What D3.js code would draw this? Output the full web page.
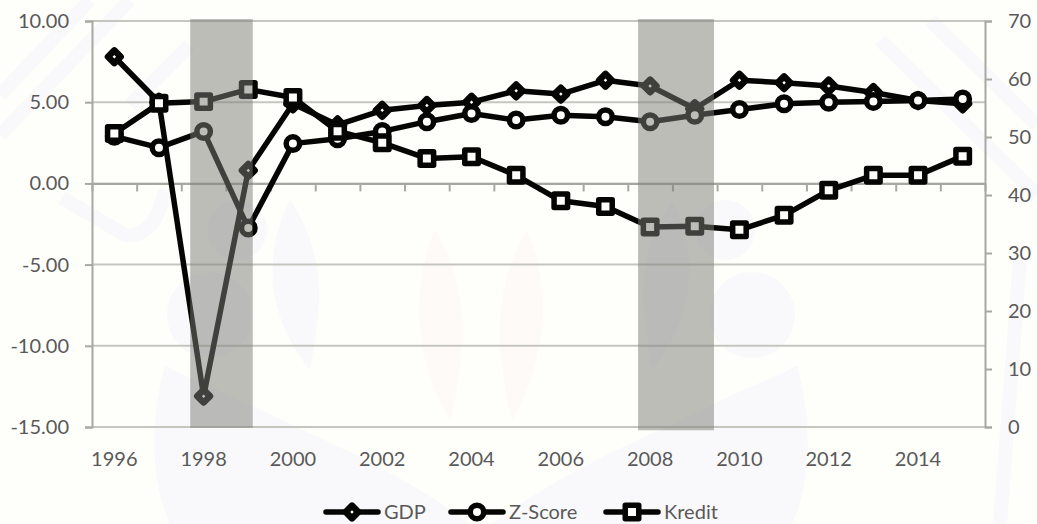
<!DOCTYPE html>
<html>
<head>
<meta charset="utf-8">
<script src="https://cdn.jsdelivr.net/npm/d3@7"></script>
<style>
  html, body { margin: 0; padding: 0; background: #fefefb; overflow: hidden; }
  svg { display: block; }
  text { font-family: Lato, sans-serif; font-size: 20px; fill: #595959; }
  .axis path, .axis line { stroke: #a8a8a2; stroke-width: 2px; }
  .axis text { font-family: Lato, sans-serif; font-size: 20px; fill: #595959; }
  .grid line { stroke: #c6c6c0; stroke-width: 2px; }
  .series { fill: none; stroke: #050503; stroke-width: 5.5px; stroke-linejoin: round; stroke-linecap: round; }
  .marker { fill: #fefefb; stroke: #050503; stroke-linejoin: round; }
  .wm { fill: #f9f9fb; }
  .wm-line { fill: none; stroke: #f9f9fb; stroke-width: 14px; }
  .wm-red { fill: #fefaf8; }
</style>
</head>
<body>
<script>
/* Values */
var years = d3.range(1996, 2016);
var gdp = [7.8, 5.0, -13.1, 0.8, 4.9, 3.6, 4.5, 4.8, 5.0, 5.7, 5.5, 6.35, 6.0, 4.6, 6.35, 6.2, 6.0, 5.6, 5.1, 4.9];
var zscore = [2.9, 2.2, 3.2, -2.75, 2.45, 2.75, 3.2, 3.8, 4.3, 3.9, 4.2, 4.1, 3.8, 4.2, 4.55, 4.9, 5.0, 5.05, 5.1, 5.2];
var kredit = [50.6, 55.8, 56.1, 58.2, 56.8, 51.0, 49.0, 46.3, 46.6, 43.4, 39.0, 38.0, 34.5, 34.6, 34.0, 36.5, 40.8, 43.4, 43.4, 46.7];
var yearLabels = d3.range(1996, 2016, 2);
var leftTicks = [-15, -10, -5, 0, 5, 10];
var rightTicks = [0, 10, 20, 30, 40, 50, 60, 70];
/* shaded spans: from year, to year, lowest value on the left axis */
var crisisSpans = [[1997.7, 1999.1, -15.05], [2007.73, 2009.43, -15.2]];

var width = 1037, height = 524;
var plotLeft = 92, plotRight = 985, plotTop = 21, plotBottom = 427;

var svg = d3.select("body").append("svg")
    .attr("width", width)
    .attr("height", height);

var x = d3.scaleLinear().domain([1995.5, 2015.5]).range([plotLeft, plotRight]);
var yLeft = d3.scaleLinear().domain([-15, 10]).range([plotBottom, plotTop]);
var yRight = d3.scaleLinear().domain([0, 70]).range([plotBottom, plotTop]);

/* Faint logo watermark behind the chart, its two halves mirror at x = 481 */
var wm = svg.append("g");
[0, 1].forEach(function(flip) {
  var half = wm.append("g")
      .attr("transform", flip ? "translate(962,0) scale(-1,1)" : null);
  half.append("circle").attr("class", "wm").attr("cx", 210).attr("cy", 315).attr("r", 43);
  half.append("circle").attr("class", "wm").attr("cx", 237).attr("cy", 230).attr("r", 30);
  half.append("path").attr("class", "wm")
      .attr("d", "M165,365C150,420 150,480 170,524L470,524C400,470 300,430 240,400C210,385 180,375 165,365Z");
  half.append("path").attr("class", "wm")
      .attr("d", "M290,200C330,260 320,310 310,370C270,320 260,260 290,200Z");
  half.append("path").attr("class", "wm-red")
      .attr("d", "M435,230C465,280 470,340 450,420C415,360 410,290 435,230Z");
});
wm.append("path").attr("class", "wm-line").attr("d", "M62,198L125,235Q155,238 165,190");
wm.append("path").attr("class", "wm-line").attr("d", "M0,95L90,0M0,135L130,0M130,105L190,45");
wm.append("path").attr("class", "wm-line").attr("d", "M880,40L1037,195M930,20L1037,125M1020,260L1000,524");

/* Gridlines */
svg.append("g").attr("class", "grid")
  .selectAll("line")
    .data(leftTicks)
  .enter().append("line")
    .attr("x1", plotLeft).attr("x2", plotRight)
    .attr("y1", function(d) { return yLeft(d); })
    .attr("y2", function(d) { return yLeft(d); });

/* Axes */
svg.append("g").attr("class", "axis")
    .attr("transform", "translate(" + plotLeft + ",0)")
    .call(d3.axisLeft(yLeft).tickValues(leftTicks).tickSizeOuter(0).tickSize(7).tickPadding(16)
      .tickFormat(function(d) { return d.toFixed(2); }));

svg.append("g").attr("class", "axis")
    .attr("transform", "translate(" + plotRight + ",0)")
    .call(d3.axisRight(yRight).tickValues(rightTicks).tickSizeOuter(0).tickSize(7).tickPadding(16));

/* Category axis crosses at zero, its ticks sit between the years */
svg.append("g").attr("class", "axis")
    .attr("transform", "translate(0," + yLeft(0) + ")")
    .call(d3.axisBottom(x).tickValues(d3.range(1995.5, 2016.5)).tickSize(8).tickSizeOuter(0).tickFormat(""));

svg.append("g")
  .selectAll("text")
    .data(yearLabels)
  .enter().append("text")
    .attr("x", function(d) { return x(d); })
    .attr("y", 466)
    .attr("text-anchor", "middle")
    .text(function(d) { return d; });

/* Series */
var symbols = {
  diamond: d3.symbol().type(d3.symbolSquare).size(81)(),
  circle: d3.symbol().type(d3.symbolCircle).size(143)(),
  square: d3.symbol().type(d3.symbolSquare).size(182)()
};

var series = [
  { name: "GDP", values: gdp, y: yLeft, shape: "diamond", sw: 6.5, rot: 45 },
  { name: "Z-Score", values: zscore, y: yLeft, shape: "circle", sw: 5.5, rot: 0 },
  { name: "Kredit", values: kredit, y: yRight, shape: "square", sw: 5.5, rot: 0 }
];

series.forEach(function(s) {
  var line = d3.line()
      .x(function(d, i) { return x(years[i]); })
      .y(function(d) { return s.y(d); });

  svg.append("path")
      .attr("class", "series")
      .attr("d", line(s.values));

  svg.selectAll(".m-" + s.shape)
      .data(s.values)
    .enter().append("path")
      .attr("class", "marker m-" + s.shape)
      .attr("d", symbols[s.shape])
      .attr("stroke-width", s.sw)
      .attr("transform", function(d, i) {
        return "translate(" + x(years[i]) + "," + s.y(d) + ") rotate(" + s.rot + ")";
      });
});

/* Shaded crisis spans lie over the lines */
svg.append("g")
  .selectAll("rect")
    .data(crisisSpans)
  .enter().append("rect")
    .attr("x", function(d) { return x(d[0]); })
    .attr("width", function(d) { return x(d[1]) - x(d[0]); })
    .attr("y", yLeft(10.12))
    .attr("height", function(d) { return yLeft(d[2]) - yLeft(10.12); })
    .attr("fill", "#7c7c76")
    .attr("opacity", 0.5);

/* Legend */
var legendX = [352, 477, 632];
var legend = svg.selectAll(".legend")
    .data(series)
  .enter().append("g")
    .attr("class", "legend")
    .attr("transform", function(d, i) { return "translate(" + legendX[i] + ",512)"; });

legend.append("line")
    .attr("class", "series")
    .attr("x1", -26).attr("x2", 26);

legend.append("path")
    .attr("class", "marker")
    .attr("d", function(d) { return symbols[d.shape]; })
    .attr("stroke-width", function(d) { return d.sw; })
    .attr("transform", function(d) { return "rotate(" + d.rot + ")"; });

legend.append("text")
    .attr("x", 32)
    .attr("y", 6.5)
    .text(function(d) { return d.name; });
</script>
</body>
</html>
